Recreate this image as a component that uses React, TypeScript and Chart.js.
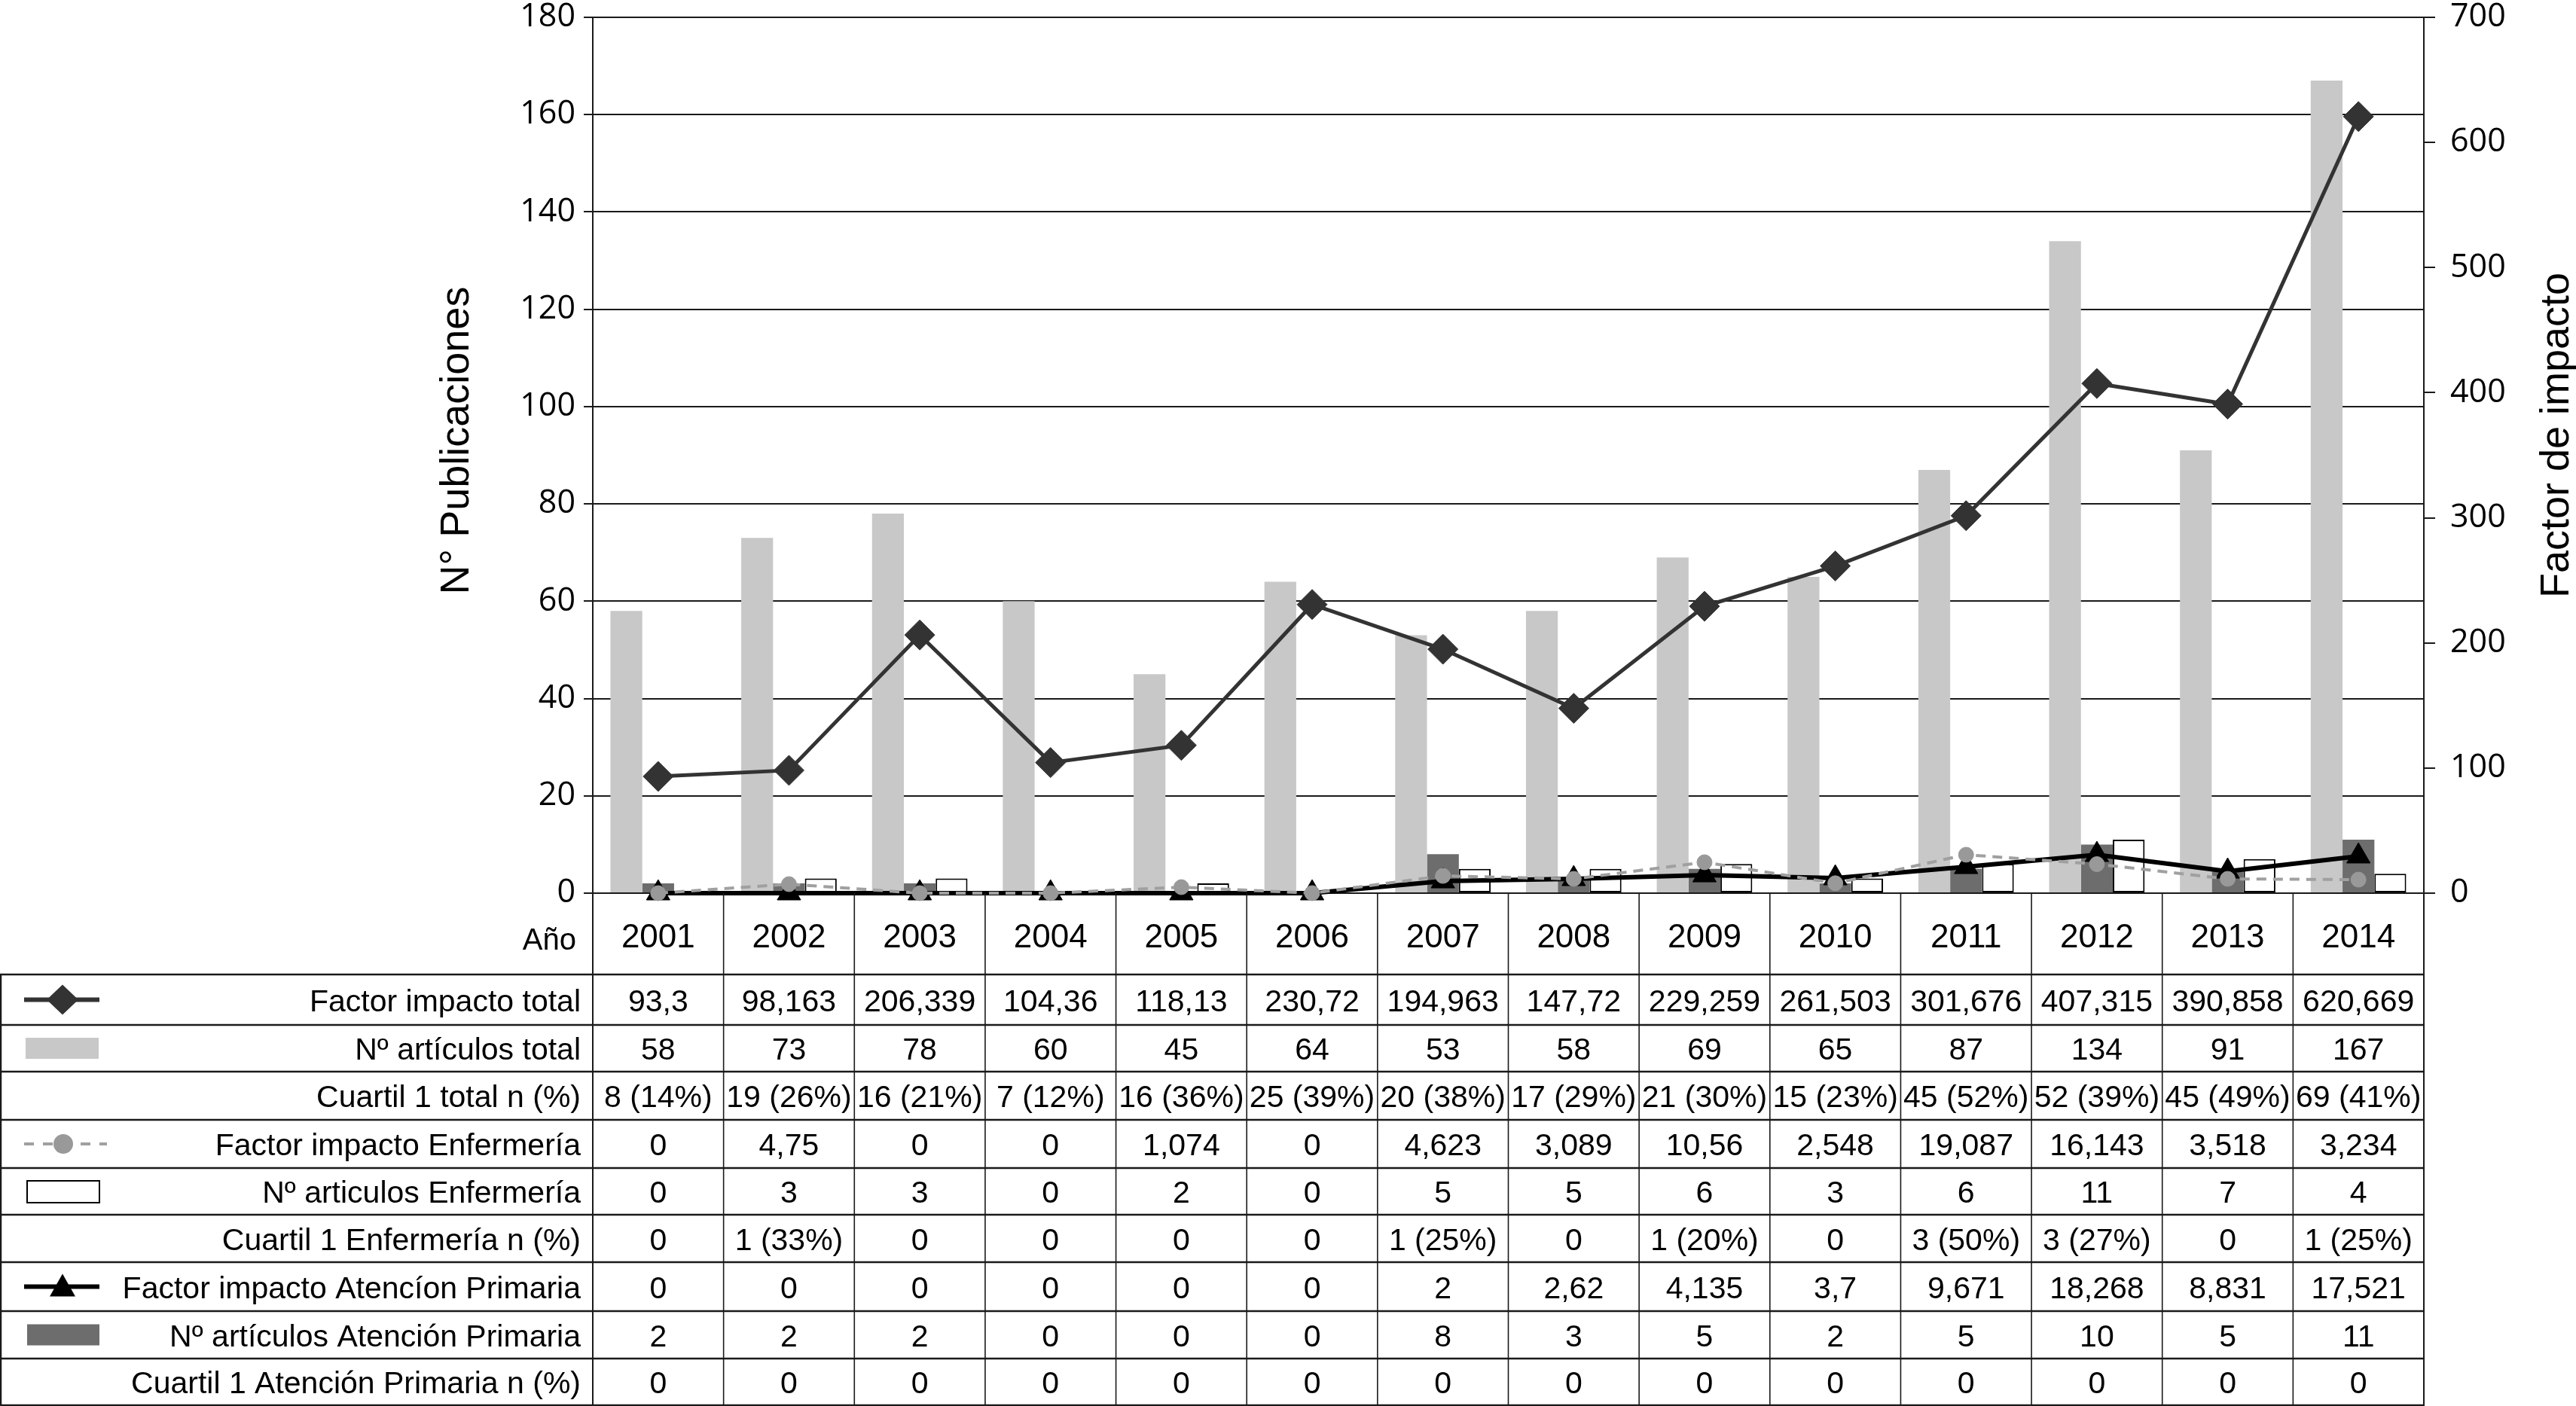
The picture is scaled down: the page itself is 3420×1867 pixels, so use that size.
import React, { useEffect, useRef } from "react";
import { Chart, registerables } from "chart.js";
Chart.register(...registerables);

// ---------- data ----------
const years = ["2001", "2002", "2003", "2004", "2005", "2006", "2007", "2008", "2009", "2010", "2011", "2012", "2013", "2014"];
const articulosTotal = [58, 73, 78, 60, 45, 64, 53, 58, 69, 65, 87, 134, 91, 167];
const articulosAP = [2, 2, 2, 0, 0, 0, 8, 3, 5, 2, 5, 10, 5, 11];
const articulosEnf = [0, 3, 3, 0, 2, 0, 5, 5, 6, 3, 6, 11, 7, 4];
const fiTotal = [93.3, 98.163, 206.339, 104.36, 118.13, 230.72, 194.963, 147.72, 229.259, 261.503, 301.676, 407.315, 390.858, 620.669];
// values of the two small lines as they are drawn in the picture (right axis)
const fiEnfPlot = [0, 7.2, 0, 0, 4.8, 0, 13.8, 11.4, 24.7, 7.9, 30.7, 23.2, 11.4, 10.8];
const fiAPPlot = [0, 0, 0, 0, 0, 0, 9.6, 11.4, 14.4, 12, 21, 30.7, 17.4, 29.5];

const leftAxis = { min: 0, max: 180, step: 20, title: "N° Publicaciones" };
const rightAxis = { min: 0, max: 700, step: 100, title: "Factor de impacto" };

// table text
const fiTotalTxt = ["93,3", "98,163", "206,339", "104,36", "118,13", "230,72", "194,963", "147,72", "229,259", "261,503", "301,676", "407,315", "390,858", "620,669"];
const q1TotalTxt = ["8 (14%)", "19 (26%)", "16 (21%)", "7 (12%)", "16 (36%)", "25 (39%)", "20 (38%)", "17 (29%)", "21 (30%)", "15 (23%)", "45 (52%)", "52 (39%)", "45 (49%)", "69 (41%)"];
const fiEnfTxt = ["0", "4,75", "0", "0", "1,074", "0", "4,623", "3,089", "10,56", "2,548", "19,087", "16,143", "3,518", "3,234"];
const q1EnfTxt = ["0", "1 (33%)", "0", "0", "0", "0", "1 (25%)", "0", "1 (20%)", "0", "3 (50%)", "3 (27%)", "0", "1 (25%)"];
const fiAPTxt = ["0", "0", "0", "0", "0", "0", "2", "2,62", "4,135", "3,7", "9,671", "18,268", "8,831", "17,521"];
const q1APTxt = ["0", "0", "0", "0", "0", "0", "0", "0", "0", "0", "0", "0", "0", "0"];

const headerLabel = "Año";
const rowLabels = [
  "Factor impacto total",
  "Nº artículos total",
  "Cuartil 1 total n (%)",
  "Factor impacto Enfermería",
  "Nº articulos Enfermería",
  "Cuartil 1 Enfermería n (%)",
  "Factor impacto Atencíon Primaria",
  "Nº artículos Atención Primaria",
  "Cuartil 1 Atención Primaria n (%)",
];
const rowKeys = ["lineTotal", "barTotal", "none", "lineEnf", "barEnf", "none", "lineAP", "barAP", "none"];
const rowValues = [
  fiTotalTxt,
  articulosTotal.map(String),
  q1TotalTxt,
  fiEnfTxt,
  articulosEnf.map(String),
  q1EnfTxt,
  fiAPTxt,
  articulosAP.map(String),
  q1APTxt,
];

// ---------- styles ----------
const C_TOTAL_BAR = "#c8c8c8";
const C_AP_BAR = "#6d6d6d";
const C_TOTAL_LINE = "#333333";
const C_ENF_LINE = "#a0a0a0";
const C_ENF_PT = "#999999";
const C_AP_LINE = "#000000";
const C_GRID = "#1a1a1a";
const TABLE_FONT = "41px 'Liberation Sans', Arial, sans-serif";
const YEAR_FONT = "44px 'Liberation Sans', Arial, sans-serif";
const TITLE_FONT = "54px 'Liberation Sans', Arial, sans-serif";

const W = 3420;
const H = 1867;

const tablePlugin = {
  id: "tablePlugin",
  afterDraw(chart: any) {
    const ctx: CanvasRenderingContext2D = chart.ctx;
    const ca = chart.chartArea;
    const xs = chart.scales.x;
    const n = years.length;
    const cw = (ca.right - ca.left) / n;
    const rows = [1294, 1361, 1423, 1487, 1551, 1613, 1676, 1741, 1804, 1866];
    ctx.save();

    // grid of table
    ctx.strokeStyle = C_GRID;
    ctx.lineWidth = 2.5;
    rows.forEach((y) => {
      ctx.beginPath();
      ctx.moveTo(0, y);
      ctx.lineTo(ca.right, y);
      ctx.stroke();
    });
    for (let k = 0; k <= n; k++) {
      const x = ca.left + k * cw;
      ctx.lineWidth = k === 0 || k === n ? 2 : 1.6;
      ctx.beginPath();
      ctx.moveTo(x, ca.bottom);
      ctx.lineTo(x, H);
      ctx.stroke();
    }
    ctx.lineWidth = 2.5;
    ctx.beginPath();
    ctx.moveTo(1, rows[0]);
    ctx.lineTo(1, H);
    ctx.stroke();

    // header row
    ctx.fillStyle = "#000";
    ctx.textBaseline = "alphabetic";
    ctx.font = YEAR_FONT;
    ctx.textAlign = "center";
    years.forEach((yr, i) => {
      ctx.fillText(yr, xs.getPixelForValue(i), 1258);
    });
    ctx.font = "40px 'Liberation Sans', Arial, sans-serif";
    ctx.textAlign = "right";
    ctx.fillText(headerLabel, 765, 1261);

    // rows
    ctx.font = TABLE_FONT;
    for (let r = 0; r < rowLabels.length; r++) {
      const y0 = rows[r];
      const y1 = rows[r + 1];
      const cy = (y0 + y1) / 2;
      const base = cy + 15;
      ctx.fillStyle = "#000";
      ctx.textAlign = "right";
      ctx.fillText(rowLabels[r], 771, base);
      ctx.textAlign = "center";
      rowValues[r].forEach((v, i) => {
        ctx.fillText(v, xs.getPixelForValue(i), base);
      });
      // legend symbol
      const key = rowKeys[r];
      const sx = 83;
      if (key === "lineTotal") {
        ctx.strokeStyle = C_TOTAL_LINE;
        ctx.lineWidth = 6;
        ctx.beginPath();
        ctx.moveTo(32, cy);
        ctx.lineTo(132, cy);
        ctx.stroke();
        ctx.fillStyle = C_TOTAL_LINE;
        ctx.beginPath();
        ctx.moveTo(sx - 21, cy);
        ctx.lineTo(sx, cy - 20);
        ctx.lineTo(sx + 21, cy);
        ctx.lineTo(sx, cy + 20);
        ctx.closePath();
        ctx.fill();
      } else if (key === "barTotal") {
        ctx.fillStyle = C_TOTAL_BAR;
        ctx.fillRect(34, cy - 14, 97, 28);
      } else if (key === "lineEnf") {
        ctx.strokeStyle = C_ENF_LINE;
        ctx.lineWidth = 4;
        ctx.setLineDash([13, 12]);
        ctx.beginPath();
        ctx.moveTo(32, cy);
        ctx.lineTo(142, cy);
        ctx.stroke();
        ctx.setLineDash([]);
        ctx.fillStyle = C_ENF_PT;
        ctx.beginPath();
        ctx.arc(84, cy, 13, 0, Math.PI * 2);
        ctx.fill();
      } else if (key === "barEnf") {
        ctx.fillStyle = "#fff";
        ctx.fillRect(36, cy - 14, 96, 29);
        ctx.strokeStyle = "#000";
        ctx.lineWidth = 2;
        ctx.strokeRect(36, cy - 14, 96, 29);
      } else if (key === "lineAP") {
        ctx.strokeStyle = C_AP_LINE;
        ctx.lineWidth = 6;
        ctx.beginPath();
        ctx.moveTo(32, cy);
        ctx.lineTo(132, cy);
        ctx.stroke();
        ctx.fillStyle = C_AP_LINE;
        ctx.beginPath();
        ctx.moveTo(sx, cy - 17);
        ctx.lineTo(sx + 17, cy + 13);
        ctx.lineTo(sx - 17, cy + 13);
        ctx.closePath();
        ctx.fill();
      } else if (key === "barAP") {
        ctx.fillStyle = C_AP_BAR;
        ctx.fillRect(36, cy - 14, 96, 28);
      }
    }

    // axis titles
    ctx.fillStyle = "#000";
    ctx.font = TITLE_FONT;
    ctx.textAlign = "center";
    ctx.textBaseline = "alphabetic";
    ctx.save();
    ctx.translate(622, 585);
    ctx.rotate(-Math.PI / 2);
    ctx.fillText(leftAxis.title, 0, 0);
    ctx.restore();
    ctx.save();
    ctx.translate(3410, 578);
    ctx.rotate(-Math.PI / 2);
    ctx.fillText(rightAxis.title, 0, 0);
    ctx.restore();

    ctx.restore();
  },
};

export default function App() {
  const ref = useRef<HTMLCanvasElement | null>(null);
  useEffect(() => {
    document.body.style.margin = "0";
    document.body.style.overflow = "hidden";
    const canvas = ref.current!;
    const tickFont = { family: "'Open Sans', 'DejaVu Sans', sans-serif", size: 43 };
    const chart = new Chart(canvas, {
      type: "bar",
      data: {
        labels: years,
        datasets: [
          {
            type: "line",
            label: "Factor impacto total",
            data: fiTotal,
            yAxisID: "y1",
            borderColor: C_TOTAL_LINE,
            backgroundColor: C_TOTAL_LINE,
            borderWidth: 5,
            pointStyle: "rectRot",
            pointRadius: 20,
            pointBorderWidth: 1,
            pointBackgroundColor: C_TOTAL_LINE,
            pointBorderColor: C_TOTAL_LINE,
            tension: 0,
            clip: false,
            order: 0,
          } as any,
          {
            type: "line",
            label: "Factor impacto Enfermería",
            data: fiEnfPlot,
            yAxisID: "y1",
            borderColor: C_ENF_LINE,
            backgroundColor: C_ENF_PT,
            borderWidth: 4,
            borderDash: [13, 9],
            pointStyle: "circle",
            pointRadius: 10,
            pointBorderWidth: 1,
            pointBackgroundColor: C_ENF_PT,
            pointBorderColor: C_ENF_PT,
            tension: 0,
            clip: false,
            order: 1,
          } as any,
          {
            type: "line",
            label: "Factor impacto Atencíon Primaria",
            data: fiAPPlot,
            yAxisID: "y1",
            borderColor: C_AP_LINE,
            backgroundColor: C_AP_LINE,
            borderWidth: 6,
            pointStyle: "triangle",
            pointRadius: 18,
            pointBorderWidth: 1,
            pointBackgroundColor: C_AP_LINE,
            pointBorderColor: C_AP_LINE,
            tension: 0,
            clip: false,
            order: 2,
          } as any,
          {
            type: "bar",
            label: "Nº artículos total",
            data: articulosTotal,
            yAxisID: "y",
            backgroundColor: C_TOTAL_BAR,
            borderWidth: 0,
            order: 3,
          },
          {
            type: "bar",
            label: "Nº artículos Atención Primaria",
            data: articulosAP,
            yAxisID: "y",
            backgroundColor: C_AP_BAR,
            borderWidth: 0,
            order: 3,
          },
          {
            type: "bar",
            label: "Nº articulos Enfermería",
            data: articulosEnf,
            yAxisID: "y",
            backgroundColor: "#ffffff",
            borderColor: "#000000",
            borderWidth: 2,
            borderSkipped: false,
            order: 3,
          },
        ],
      },
      options: {
        responsive: false,
        animation: false,
        devicePixelRatio: 1,
        layout: { padding: { top: 23, bottom: H - 1186, left: 0, right: 0 } },
        datasets: { bar: { categoryPercentage: 0.73, barPercentage: 1 } },
        plugins: { legend: { display: false }, tooltip: { enabled: false } },
        scales: {
          x: { type: "category", display: false, offset: true },
          y: {
            position: "left",
            min: leftAxis.min,
            max: leftAxis.max,
            ticks: { stepSize: leftAxis.step, font: tickFont, color: "#000", padding: 11 },
            grid: { color: C_GRID, lineWidth: 2, tickLength: 12, drawTicks: true },
            border: { display: true, color: C_GRID, width: 2 },
            afterFit: (s: any) => {
              s.width = 787;
              s.paddingTop = 0;
              s.paddingBottom = 0;
            },
          },
          y1: {
            position: "right",
            min: rightAxis.min,
            max: rightAxis.max,
            ticks: { stepSize: rightAxis.step, font: tickFont, color: "#000", padding: 20 },
            grid: { color: C_GRID, lineWidth: 2, tickLength: 15, drawOnChartArea: false, drawTicks: true },
            border: { display: true, color: C_GRID, width: 2 },
            afterFit: (s: any) => {
              s.width = W - 3218;
              s.paddingTop = 0;
              s.paddingBottom = 0;
            },
          },
        },
      } as any,
      plugins: [tablePlugin],
    });
    return () => chart.destroy();
  }, []);
  return <canvas ref={ref} width={W} height={H} style={{ display: "block" }} />;
}
